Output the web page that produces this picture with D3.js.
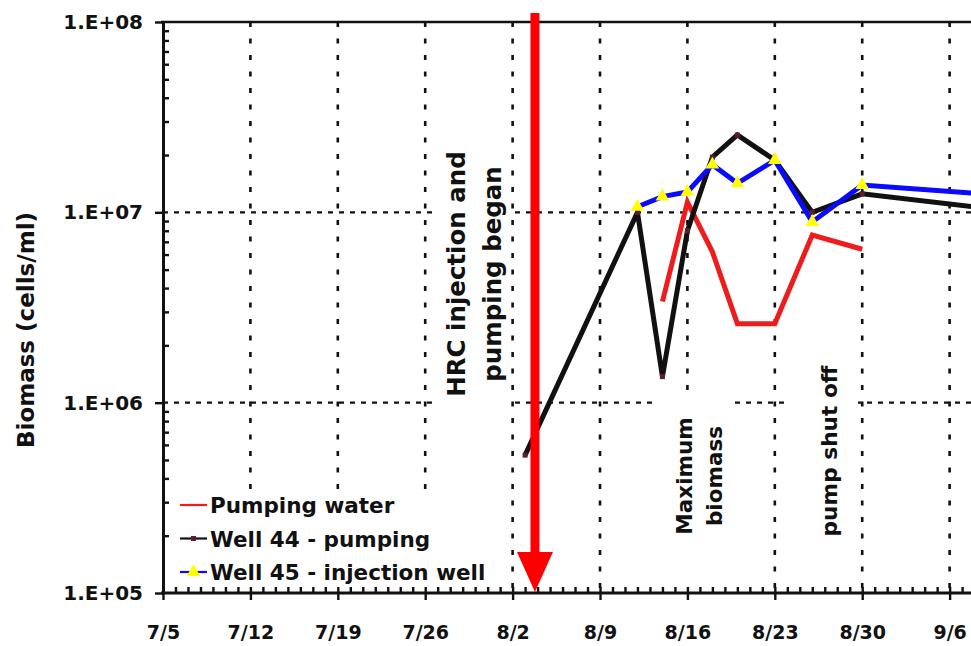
<!DOCTYPE html>
<html>
<head>
<meta charset="utf-8">
<script src="https://cdn.jsdelivr.net/npm/d3@7"></script>
<style>
  html, body { margin: 0; padding: 0; background: #fff; }
  svg { display: block; font-family: "DejaVu Sans", sans-serif; font-weight: bold; }
</style>
</head>
<body>
<svg id="chart" width="971" height="646"></svg>
<script>
// data (year is not shown, any will do)
const YEAR = 2003;
const xTickLabels = ["7/5", "7/12", "7/19", "7/26", "8/2", "8/9", "8/16", "8/23", "8/30", "9/6"];
const yTickValues = [1e5, 1e6, 1e7, 1e8];
const yTickLabels = ["1.E+05", "1.E+06", "1.E+07", "1.E+08"];

const pumpDates = ["8/14", "8/16", "8/18", "8/20", "8/23", "8/26", "8/30"];
const pumpValues = [3.4e6, 1.13e7, 6.2e6, 2.6e6, 2.6e6, 7.6e6, 6.4e6];

const well44Dates = ["8/3", "8/12", "8/14", "8/16", "8/18", "8/20", "8/23", "8/26", "8/30", "9/13"];
const well44Values = [5.3e5, 1.0e7, 1.37e6, 8.0e6, 1.95e7, 2.55e7, 1.88e7, 1.0e7, 1.25e7, 9.8e6];

const well45Dates = ["8/12", "8/14", "8/16", "8/18", "8/20", "8/23", "8/26", "8/30", "9/13"];
const well45Values = [1.07e7, 1.21e7, 1.28e7, 1.78e7, 1.42e7, 1.88e7, 8.9e6, 1.39e7, 1.19e7];

const seriesNames = ["Pumping water", "Well 44 - pumping", "Well 45 - injection well"];
const eventDate = new Date(YEAR, 7, 3, 19); // HRC injection start

const parseDay = s => d3.timeParse("%m/%d/%Y")(s + "/" + YEAR);
const toPoints = (dates, vals) => dates.map((d, i) => ({ date: parseDay(d), value: vals[i] }));

const svg = d3.select("#chart");

const x = d3.scaleTime()
    .domain([parseDay("7/5"), parseDay("9/13")])
    .range([163, 163 + 70 * 12.486]);

const y = d3.scaleLog()
    .domain([1e5, 1e8])
    .range([593, 22]);

const weeks = xTickLabels.map(parseDay);
const days = d3.timeDay.range(x.domain()[0], x.domain()[1]);
const minorY = [];
for (let dec = 1e5; dec < 1e8; dec *= 10) {
    for (let k = 2; k <= 9; k++) minorY.push(dec * k);
}

// grid
svg.append("g")
    .selectAll("line")
    .data(weeks.slice(1))
    .join("line")
    .attr("x1", d => x(d)).attr("x2", d => x(d))
    .attr("y1", y(1e8)).attr("y2", y(1e5))
    .attr("stroke", "#111")
    .attr("stroke-width", 2.6)
    .attr("stroke-dasharray", "5,11.5");

svg.append("g")
    .selectAll("line")
    .data([1e6, 1e7])
    .join("line")
    .attr("x1", x.range()[0]).attr("x2", 971)
    .attr("y1", d => y(d)).attr("y2", d => y(d))
    .attr("stroke", "#111")
    .attr("stroke-width", 2.4)
    .attr("stroke-dasharray", "5,6");

// white boxes behind annotation text (they hide the grid)
const boxes = [
    { x0: 438, x1: 511, y0: 142, y1: 405 },
    { x0: 656, x1: 731, y0: 393, y1: 589 },
    { x0: 790, x1: 858, y0: 355, y1: 545 },
    { x0: 166, x1: 495, y0: 489, y1: 589 }
];
svg.append("g")
    .selectAll("rect")
    .data(boxes)
    .join("rect")
    .attr("x", d => d.x0).attr("y", d => d.y0)
    .attr("width", d => d.x1 - d.x0).attr("height", d => d.y1 - d.y0)
    .attr("fill", "#fff");

// top frame line
svg.append("line")
    .attr("x1", x.range()[0] - 2).attr("x2", 971)
    .attr("y1", y(1e8)).attr("y2", y(1e8))
    .attr("stroke", "#111").attr("stroke-width", 2.6);

// series
const line = d3.line().x(d => x(d.date)).y(d => y(d.value));
const colors = ["#ee1c1c", "#111111", "#0a0aff"];
const pumpPts = toPoints(pumpDates, pumpValues);
const w44Pts = toPoints(well44Dates, well44Values);
const w45Pts = toPoints(well45Dates, well45Values);

[pumpPts, w44Pts, w45Pts].forEach((pts, i) => {
    svg.append("path")
        .datum(pts)
        .attr("fill", "none")
        .attr("stroke", colors[i])
        .attr("stroke-width", 5)
        .attr("stroke-linejoin", "miter")
        .attr("d", line);
});

svg.append("g")
    .selectAll("rect")
    .data(w44Pts)
    .join("rect")
    .attr("x", d => x(d.date) - 2.5).attr("y", d => y(d.value) - 2.5)
    .attr("width", 5).attr("height", 5)
    .attr("fill", "#5a1f2b");

const tri = d3.symbol().type(d3.symbolTriangle).size(80);
svg.append("g")
    .selectAll("path")
    .data(w45Pts)
    .join("path")
    .attr("transform", d => `translate(${x(d.date)},${y(d.value)})`)
    .attr("d", tri)
    .attr("fill", "#ffff00");

// red arrow
const ax = x(eventDate);
svg.append("rect")
    .attr("x", ax - 4.5).attr("y", y(1e8) - 9)
    .attr("width", 9).attr("height", y(1e5) - 40 - (y(1e8) - 9))
    .attr("fill", "#ff0000");
svg.append("path")
    .attr("d", `M${ax - 18},${y(1e5) - 41} L${ax + 18},${y(1e5) - 41} L${ax},${y(1e5) - 1} Z`)
    .attr("fill", "#ff0000");

// axes
const yMajor = d3.axisLeft(y)
    .tickValues(yTickValues)
    .tickSize(8)
    .tickSizeOuter(0)
    .tickPadding(12)
    .tickFormat((d, i) => yTickLabels[i]);
const yMinor = d3.axisRight(y).tickValues(minorY).tickSize(6).tickSizeOuter(0).tickFormat("");

const gy = svg.append("g").attr("transform", `translate(${x.range()[0]},0)`).call(yMajor);
svg.append("g").attr("transform", `translate(${x.range()[0]},0)`).call(yMinor)
    .call(g => g.select(".domain").remove());

const xMajor = d3.axisBottom(x)
    .tickValues(weeks)
    .tickSize(7)
    .tickSizeOuter(0)
    .tickPadding(25.5)
    .tickFormat((d, i) => xTickLabels[i]);
const xMinor = d3.axisTop(x).tickValues(days).tickSize(6).tickSizeOuter(0).tickFormat("");

const gx = svg.append("g").attr("transform", `translate(0,${y(1e5)})`).call(xMajor);
svg.append("g").attr("transform", `translate(0,${y(1e5)})`).call(xMinor)
    .call(g => g.select(".domain").remove());

svg.selectAll(".domain").attr("stroke", "#111").attr("stroke-width", 3);
svg.selectAll(".tick line").attr("stroke", "#111").attr("stroke-width", 2.4);
gy.selectAll("text").attr("font-size", 20).attr("font-family", "DejaVu Sans").attr("font-weight", "bold").attr("fill", "#111");
gx.selectAll("text").attr("font-size", 19).attr("font-family", "DejaVu Sans").attr("font-weight", "bold").attr("fill", "#111");
gx.select(".domain").attr("d", `M${x.range()[0] - 2},0H971`);

// y title
svg.append("text")
    .attr("transform", "translate(34,330) rotate(-90)")
    .attr("text-anchor", "middle")
    .attr("font-size", 23)
    .attr("fill", "#111")
    .text("Biomass (cells/ml)");

// annotations
const notes = [
    { px: 465, py: 274, size: 24.5, gap: 36, lines: ["HRC injection and", "pumping began"] },
    { px: 692, py: 476, size: 21.5, gap: 30, lines: ["Maximum", "biomass"] },
    { px: 837, py: 451, size: 21.7, gap: 30, lines: ["pump shut off"] }
];
notes.forEach(n => {
    const g = svg.append("g").attr("transform", `translate(${n.px},${n.py}) rotate(-90)`);
    g.selectAll("text")
        .data(n.lines)
        .join("text")
        .attr("y", (d, i) => i * n.gap)
        .attr("text-anchor", "middle")
        .attr("font-size", n.size)
        .attr("fill", "#111")
        .text(d => d);
});

// legend
const legend = svg.append("g").attr("transform", "translate(180,505)");
seriesNames.forEach((name, i) => {
    const row = legend.append("g").attr("transform", `translate(0,${i * 33.5})`);
    row.append("line")
        .attr("x1", 0).attr("x2", 27)
        .attr("stroke", colors[i]).attr("stroke-width", 2.2);
    if (i === 1) {
        row.append("rect").attr("x", 11).attr("y", -2.5).attr("width", 5).attr("height", 5).attr("fill", "#5a1f2b");
    }
    if (i === 2) {
        row.append("path").attr("transform", "translate(13.5,0)").attr("d", tri).attr("fill", "#ffff00");
    }
    row.append("text")
        .attr("x", 30).attr("y", 8)
        .attr("font-size", 21.5)
        .attr("fill", "#111")
        .text(name);
});
</script>
</body>
</html>
